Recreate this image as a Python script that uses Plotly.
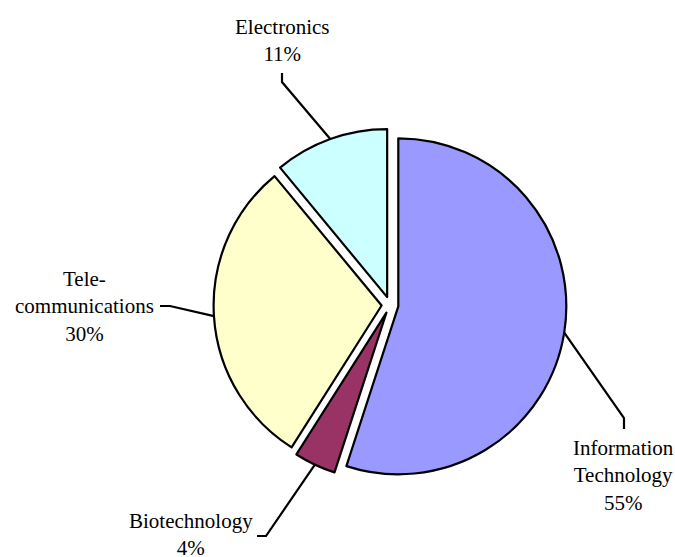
import math
import plotly.graph_objects as go

# ---- data ----
categories = ["Information Technology", "Biotechnology", "Tele-communications", "Electronics"]
label_text = ["Information<br>Technology", "Biotechnology", "Tele-<br>communications", "Electronics"]
shares = [55, 4, 30, 11]
colors = ["#9999FF", "#993366", "#FFFFCC", "#CCFFFF"]

# ---- layout constants (pixels) ----
W, H = 675, 557
CX, CY = 390.0, 305.0       # pie centre
PULL = 0.05
R = 168.0                   # target radius
half = R * (1 + PULL)       # half of domain size
dom_x = [(CX - half) / W, (CX + half) / W]
dom_y = [1 - (CY + half) / H, 1 - (CY - half) / H]

# label placement (pixels): centre of text block, start of leader, elbow of leader
label_pos = [(623, 475), (191, 534), (85, 306), (282, 40)]
leader_start = [(624, 429), (257, 536), (160, 306), (282, 73)]
leader_elbow = [(624, 418), (266, 536), (170, 306), (282, 82)]

FONT = "Liberation Serif, Times New Roman, serif"

fig = go.Figure(go.Pie(
    labels=categories, values=shares, sort=False, direction="clockwise", rotation=0,
    pull=[PULL] * len(shares), textinfo="none", hoverinfo="skip",
    marker=dict(colors=colors, line=dict(color="black", width=2.2)),
    domain=dict(x=dom_x, y=dom_y), showlegend=False,
))

def to_paper(p):
    return p[0] / W, 1 - p[1] / H

total = sum(shares)
cum = 0.0
shapes, annotations = [], []
for i, v in enumerate(shares):
    mid = (cum + v / 2) / total * 2 * math.pi
    cum += v
    dx, dy = math.sin(mid), -math.cos(mid)
    ax = CX + dx * R * PULL + dx * R
    ay = CY + dy * R * PULL + dy * R
    pts = [to_paper(leader_start[i]), to_paper(leader_elbow[i]), to_paper((ax, ay))]
    path = "M {},{} L {},{} L {},{}".format(*[c for p in pts for c in p])
    shapes.append(dict(type="path", xref="paper", yref="paper", path=path,
                       line=dict(color="black", width=2.2)))
    lx, ly = to_paper(label_pos[i])
    annotations.append(dict(xref="paper", yref="paper", x=lx, y=ly, xanchor="center",
                            yanchor="middle", showarrow=False,
                            text=f"{label_text[i]}<br>{round(v / total * 100)}%",
                            font=dict(family=FONT, size=21, color="black")))

fig.update_layout(width=W, height=H, margin=dict(l=0, r=0, t=0, b=0),
                  paper_bgcolor="white", plot_bgcolor="white",
                  shapes=shapes, annotations=annotations)

fig.write_html("out.html")
